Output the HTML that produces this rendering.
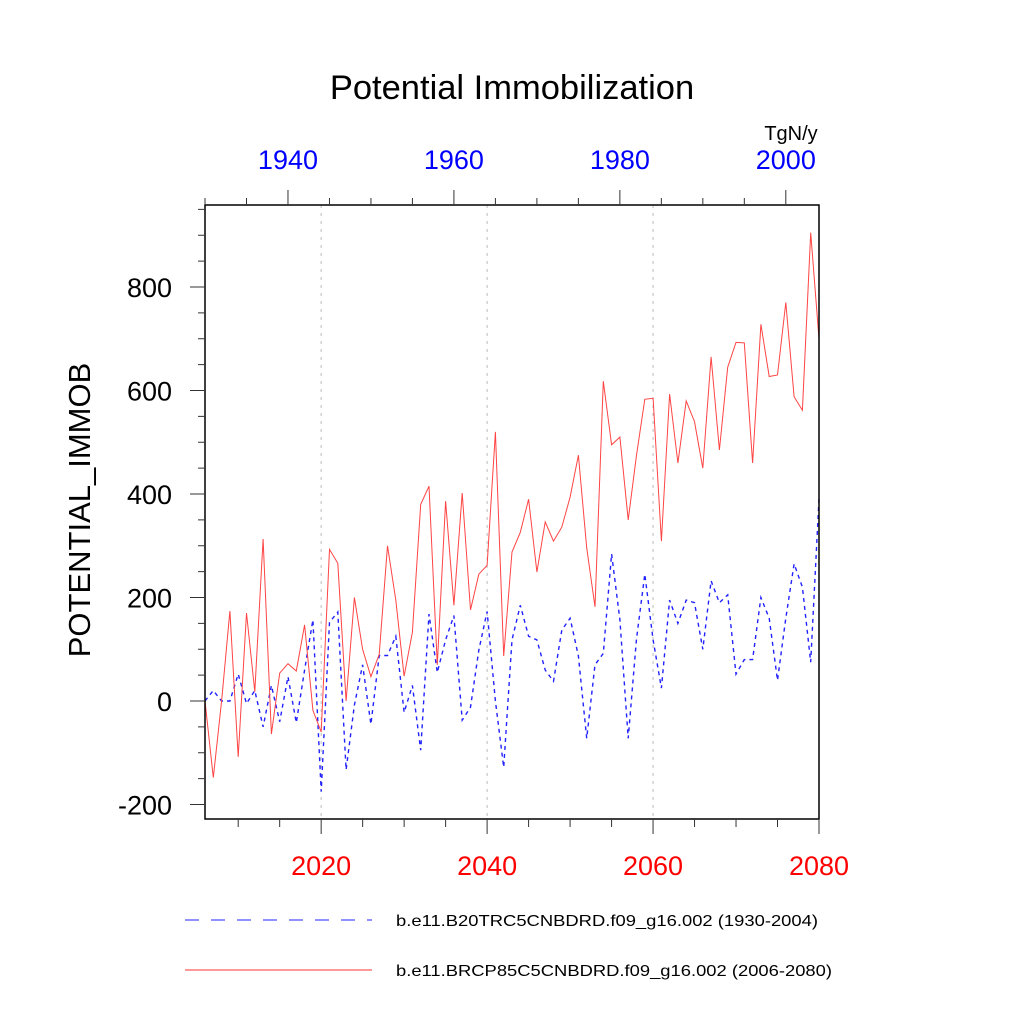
<!DOCTYPE html>
<html><head><meta charset="utf-8"><style>
html,body{margin:0;padding:0;background:#fff;}
svg{display:block;font-family:"Liberation Sans",sans-serif;}
</style></head><body>
<svg id="chart" width="1024" height="1024" viewBox="0 0 1024 1024">
<text x="512" y="99" text-anchor="middle" font-size="34.5">Potential Immobilization</text>
<text x="791" y="140" text-anchor="middle" font-size="20">TgN/y</text>
<text transform="translate(90,510) rotate(-90)" text-anchor="middle" font-size="31">POTENTIAL_IMMOB</text>
<g id="grid"></g>
<g id="series"></g>
<rect x="205" y="205" width="614" height="614" fill="none" stroke="#000" stroke-width="1.5"/>
<g id="axes"></g>
<g>
<line x1="185" y1="920" x2="372" y2="920" stroke="#2222ff" stroke-width="1" stroke-dasharray="14 12"/>
<text x="396" y="926" font-size="16" textLength="422" lengthAdjust="spacingAndGlyphs">b.e11.B20TRC5CNBDRD.f09_g16.002 (1930-2004)</text>
<line x1="185" y1="970" x2="372" y2="970" stroke="#ff3333" stroke-width="1"/>
<text x="396" y="976" font-size="16" textLength="436" lengthAdjust="spacingAndGlyphs">b.e11.BRCP85C5CNBDRD.f09_g16.002 (2006-2080)</text>
</g>
</svg>
<script>
const redYears0 = 2006;
const redValues = [0,-148,0,174,-108,170,18,313,-64,54,72,58,147,-18,-60,293,266,0,200,100,47,90,300,195,48,133,380,415,70,386,185,402,176,245,262,520,87,288,326,390,249,346,309,336,394,475,296,182,618,495,510,350,475,583,585,309,593,460,580,540,450,665,485,645,693,692,460,728,627,630,770,588,562,905,700];
const blueYears0 = 1930;
const blueValues = [0,20,0,0,52,-5,20,-50,30,-40,47,-42,60,157,-175,152,172,-133,-8,70,-45,88,88,125,-22,30,-95,168,55,118,165,-37,-12,98,173,0,-128,118,185,125,118,60,38,137,160,87,-72,70,92,284,157,-72,120,245,118,25,195,150,195,190,100,232,190,205,52,80,80,200,160,40,160,265,220,75,390];
const yTicks = [-200,0,200,400,600,800];
const bottomTicks = [2020,2040,2060,2080];
const topTicks = [1940,1960,1980,2000];

const NS="http://www.w3.org/2000/svg";
const X0=205,X1=819,Y0=205,Y1=819;
const xb=y=>X0+(y-2006)*(X1-X0)/74;
const xt=y=>X0+(y-1930)*(X1-X0)/74;
const ys=v=>701-v*(414/800);
function mk(tag,attrs,parent){const e=document.createElementNS(NS,tag);for(const k in attrs)e.setAttribute(k,attrs[k]);parent.appendChild(e);return e;}
const grid=document.getElementById('grid'),axes=document.getElementById('axes'),series=document.getElementById('series');
[2020,2040,2060].forEach(y=>{const l=mk('line',{x1:xb(y),x2:xb(y),y1:Y0,y2:Y1,stroke:'#bbb','stroke-width':1,'stroke-dasharray':'3 5'},grid);

});
for(let v=-200;v<=950;v+=50){const maj=v%200===0;const l=mk('line',{x1:X0-(maj?15:7),x2:X0,y1:ys(v),y2:ys(v),stroke:'#333','stroke-width':1},axes);

}
yTicks.forEach(v=>{const t=mk('text',{x:172,y:ys(v)+10,'text-anchor':'end','font-size':27},axes);t.textContent=v;

});
for(let y=2010;y<=2080;y+=5){const maj=y%20===0;const l=mk('line',{x1:xb(y),x2:xb(y),y1:Y1,y2:Y1+(maj?15:8),stroke:'#333','stroke-width':1},axes);

}
bottomTicks.forEach(y=>{const t=mk('text',{x:xb(y),y:875,'text-anchor':'middle','font-size':27,fill:'#ff0000'},axes);t.textContent=y;

});
for(let y=1930;y<=2004;y+=5){const maj=y%20===0;const l=mk('line',{x1:xt(y),x2:xt(y),y1:Y0,y2:Y0-(maj?15:7),stroke:'#333','stroke-width':1},axes);

}
topTicks.forEach(y=>{const t=mk('text',{x:xt(y),y:169,'text-anchor':'middle','font-size':27,fill:'#0000ff'},axes);t.textContent=y;

});
const bp=blueValues.map((v,i)=>xt(blueYears0+i).toFixed(1)+','+ys(v).toFixed(1)).join(' ');
const b=mk('polyline',{points:bp,fill:'none',stroke:'#2222ff','stroke-width':1.4,'stroke-dasharray':'4 4'},series);


const rp=redValues.map((v,i)=>xb(redYears0+i).toFixed(1)+','+ys(v).toFixed(1)).join(' ');
const r=mk('polyline',{points:rp,fill:'none',stroke:'#ff4444','stroke-width':1},series);


</script>
</body></html>
